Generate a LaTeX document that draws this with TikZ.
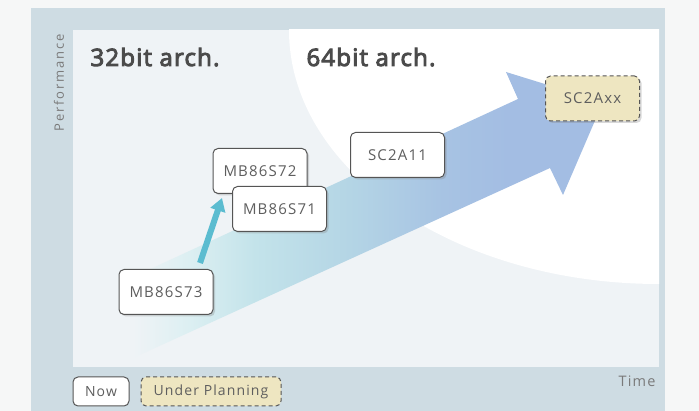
\documentclass[tikz,border=0pt]{standalone}
\usepackage{fontspec}
\setmainfont{Open Sans}
\newfontfamily\chipfont[LetterSpace=8]{Open Sans}
\newfontfamily\axisfont[LetterSpace=14]{Open Sans}
\newfontfamily\archfont[LetterSpace=5, FakeBold=4]{Open Sans}
\usetikzlibrary{arrows.meta, positioning, shadows}

\definecolor{pagebg}{HTML}{F6F7F7}
\definecolor{panelbg}{HTML}{CEDCE3}
\definecolor{plotbg}{HTML}{EFF3F6}
\definecolor{planfill}{HTML}{EEE6C1}
\definecolor{chipline}{HTML}{555555}
\definecolor{chiptext}{HTML}{5E5E5E}
\definecolor{archtext}{HTML}{4B4B4B}
\definecolor{axistext}{HTML}{7A7A7A}
\definecolor{flowfade}{HTML}{DCEFF2}
\definecolor{flowcyan}{HTML}{C3E3EA}
\definecolor{flowmid}{HTML}{B4D5E5}
\definecolor{flowsky}{HTML}{A7C3E3}
\definecolor{flowblue}{HTML}{A3BDE3}
\definecolor{stepteal}{HTML}{5BBCD0}

\pgfdeclarehorizontalshading{roadmap}{100bp}{color(0bp)=(plotbg); color(25bp)=(plotbg);
    color(31bp)=(flowfade); color(38bp)=(flowcyan); color(48bp)=(flowmid);
    color(58bp)=(flowsky); color(65bp)=(flowblue); color(100bp)=(flowblue)}

\tikzset{
    keybox/.style={draw=chipline, line width=1pt, fill=white, rounded corners=5pt,
        text=chiptext, font=\chipfont\fontsize{14}{14}\selectfont},
    chip/.style={keybox, minimum width=94pt, minimum height=45pt,
        font=\chipfont\fontsize{15}{15}\selectfont,
        drop shadow={shadow xshift=2pt, shadow yshift=-2pt, opacity=0.3}},
    planned/.style={fill=planfill, dash pattern=on 4pt off 3pt},
    arch/.style={anchor=base west, font=\archfont\fontsize{24}{24}\selectfont, text=archtext},
}

\begin{document}
\begin{tikzpicture}[x=1pt, y=-1pt]
    \useasboundingbox (0,0) rectangle (699,411);
    \fill[pagebg] (0,0) rectangle (699,411);
    \fill[panelbg] (31,8) rectangle (665,411);
    \fill[plotbg] (73,30) rectangle (659,367);

    % 64bit area
    \begin{scope}
        \clip (73,30) rectangle (659,367);
        \fill[white] (659,30) ellipse [x radius=370pt, y radius=254pt];
    \end{scope}

    \node[arch] (arch32) at (87,66) {32bit arch.};
    \node[arch] (arch64) at (303,66) {64bit arch.};
    \node[rotate=90, font=\axisfont\fontsize{13}{13}\selectfont, text=axistext] (perf) at (59,83) {Performance};
    \node[anchor=base east, font=\chipfont\fontsize{14.5}{14.5}\selectfont, text=axistext] (time) at (659,387) {Time};

    % roadmap arrow
    \shade[shading=roadmap]
        (133,277) -- (518,99) -- (506,72) -- (603,102) -- (563,195) -- (550,168) -- (133,358) -- cycle;

    \coordinate (upS)  at (200,263);
    \coordinate (tipS) at (222,198);
    \draw[stepteal, line width=6pt, -{Triangle[width=15pt, length=13pt]}] (upS) -- (tipS);

    \node[chip] (S72) at (260,171)   {MB86S72};
    \node[chip] (S71) at (279.5,209) {MB86S71};
    \node[chip] (S73) at (166,292)   {MB86S73};
    \node[chip] (A11) at (397.5,155) {SC2A11};
    \node[chip, planned] (Axx) at (592.5,98.5) {SC2Axx};

    % legend
    \node[keybox, minimum width=56pt, minimum height=29pt] (now) at (101,391.5) {Now};
    \node[keybox, planned, minimum width=140pt, minimum height=29pt, right=11pt of now] (planning) {Under Planning};
\end{tikzpicture}
\end{document}
